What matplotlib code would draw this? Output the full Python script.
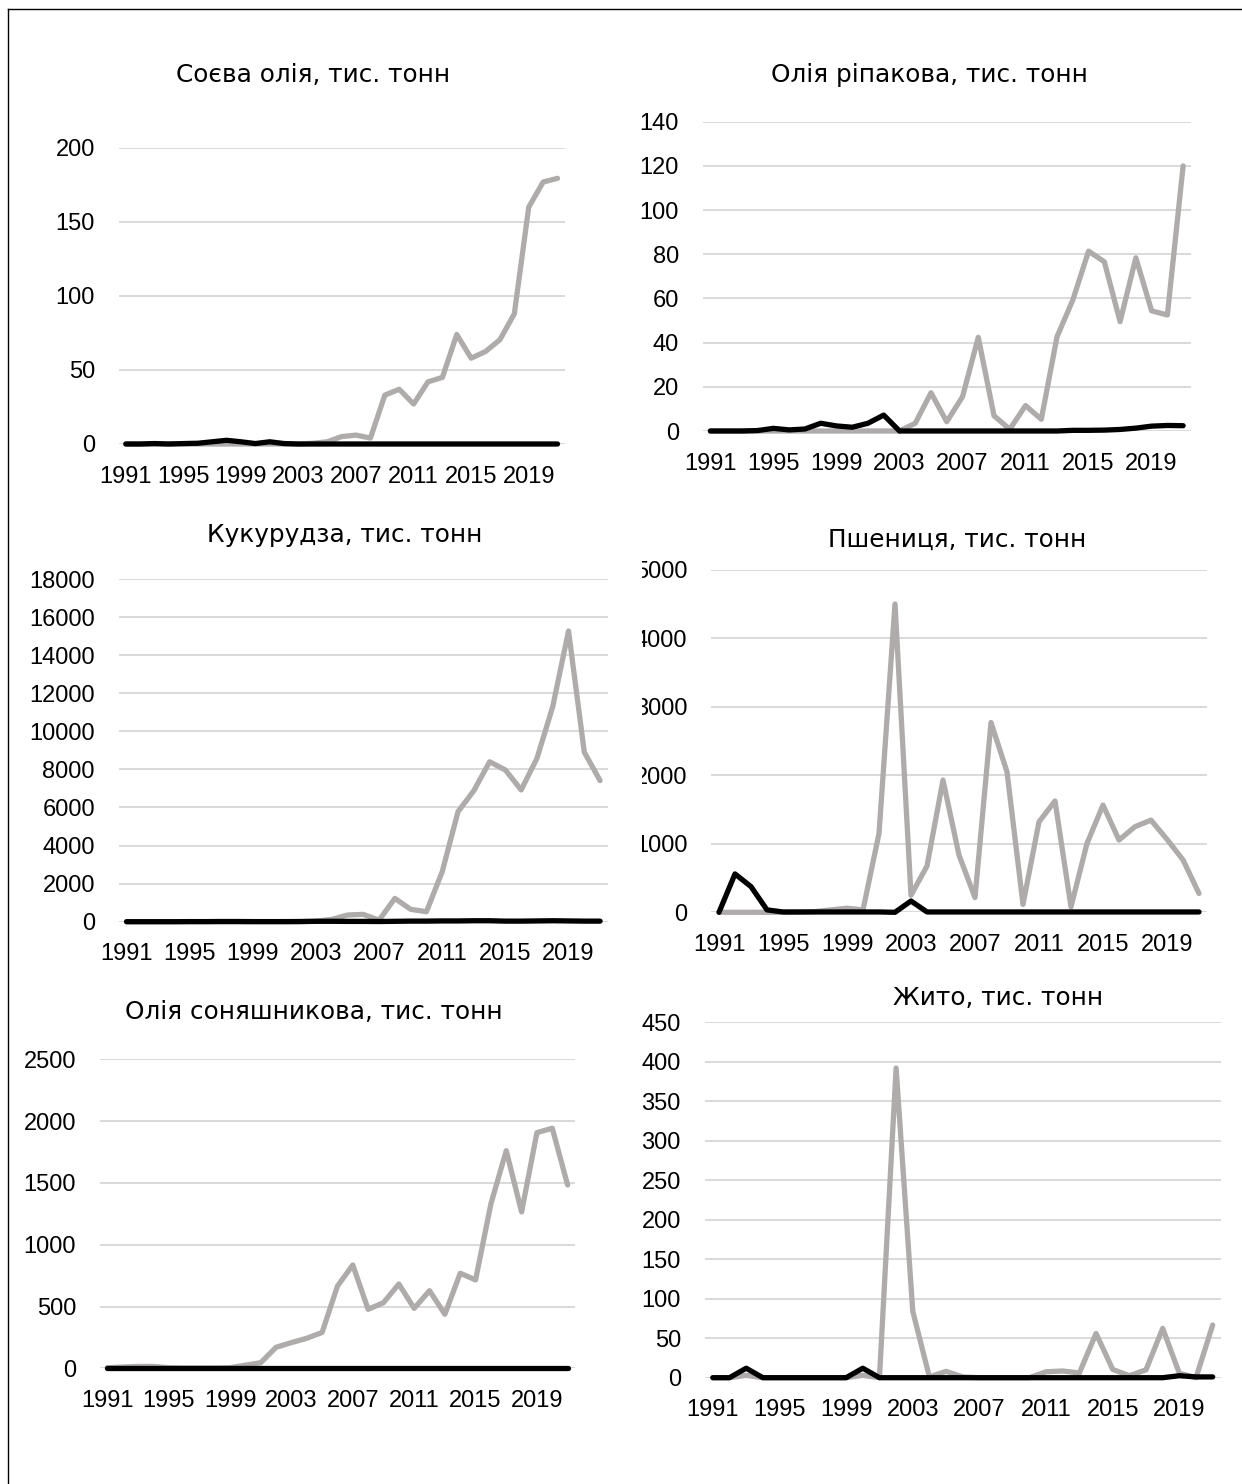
import matplotlib
matplotlib.use('Agg')
import matplotlib.pyplot as plt
from matplotlib.lines import Line2D
from matplotlib.transforms import Bbox, TransformedBbox

plt.rcParams['font.family'] = ['Liberation Sans', 'DejaVu Sans']

years = list(range(1991, 2022))
year_ticks = [1991, 1995, 1999, 2003, 2007, 2011, 2015, 2019]

titles = ["Соєва олія, тис. тонн", "Олія ріпакова, тис. тонн",
          "Кукурудза, тис. тонн", "Пшениця, тис. тонн",
          "Олія соняшникова, тис. тонн", "Жито, тис. тонн"]

soy_gray = [0, 0, 0, 0, 0, 0, 0, 0, 0, 0, 0, 0, 0,
            0.5, 1.5, 5, 6, 4, 33, 37, 27, 42, 45, 74, 58, 62.5, 70.5, 88, 160, 177, 179.5]
soy_black = [0, 0, 0.3, 0, 0.3, 0.5, 1.5, 2.5, 1.5, 0.3, 1.5, 0.3,
             0, 0, 0, 0, 0, 0, 0, 0, 0, 0, 0, 0, 0, 0, 0, 0, 0, 0, 0]

rape_gray = [0, 0, 0, 0, 0, 0, 0, 0, 0, 0, 0, 0, 0,
             3.5, 17.3, 4.2, 15.5, 42.4, 6.9, 0.8, 11.5, 5.3, 42.7, 59.3, 81.4, 76.6,
             49.5, 78.4, 54.4, 52.5, 120]
rape_black = [0, 0, 0, 0.2, 1.2, 0.5, 0.9, 3.5, 2.3, 1.7, 3.5, 7.2, 0,
              0, 0, 0, 0, 0, 0, 0, 0, 0, 0,
              0.3, 0.3, 0.4, 0.7, 1.3, 2.2, 2.5, 2.4]

corn_gray = [0, 0, 0, 0, 0, 0, 0, 0, 0, 0, 0, 0,
             30, 120, 350, 385, 80, 1225, 650, 525, 2630, 5780, 6880, 8400, 7970,
             6920, 8580, 11300, 15270, 8900, 7410]
corn_black = [0, 0, 0, 0, 5, 5, 10, 10, 5, 5, 5, 10, 20, 20, 15, 15, 10, 20, 30, 30,
              40, 40, 50, 50, 30, 30, 40, 50, 40, 30, 30]

wheat_gray = [0, 0, 0, 0, 0, 0, 10, 35, 60, 35, 1150, 4500, 250, 675, 1930, 835, 215,
              2770, 2050, 115, 1320, 1625, 80, 1005, 1565, 1055, 1250, 1345, 1065, 765, 275]
wheat_black = [0, 560, 375, 35, 5, 5, 5, 5, 5, 5, 5, 0, 165,
               5, 5, 5, 5, 5, 5, 5, 5, 5, 5, 5, 5, 5, 5, 5, 5, 5, 5]

sun_gray = [5, 10, 15, 15, 5, 3, 3, 3, 5, 25, 45, 170, 208, 243, 290, 665, 836, 477, 531,
            682, 485, 628, 437, 769, 715, 1330, 1761, 1265, 1907, 1942, 1483]
sun_black = [0, 0, 0, 0, 0, 0, 0, 0, 0, 0, 0, 0, 0, 0, 0, 0, 0, 0, 0, 0,
             0, 0, 0, 0, 0, 0, 0, 0, 0, 0, 0]

rye_gray = [0, 0, 3, 0, 0, 0, 0, 0, 0, 3, 0, 392, 84, 1, 8, 1, 0, 0, 0, 0,
            7.5, 8.5, 6, 56, 10.5, 2.5, 10, 62.5, 5.5, 0, 66.7]
rye_black = [0, 0, 12, 0, 0, 0, 0, 0, 0, 12, 0, 0, 0, 0, 0, 0, 0, 0, 0, 0,
             0, 0, 0, 0, 0, 0, 0, 0, 2.5, 1, 1]

y_ticks = [list(range(0, 201, 50)), list(range(0, 141, 20)),
           list(range(0, 18001, 2000)), list(range(0, 5001, 1000)),
           list(range(0, 2501, 500)), list(range(0, 451, 50))]

series = [(soy_gray, soy_black), (rape_gray, rape_black), (corn_gray, corn_black),
          (wheat_gray, wheat_black), (sun_gray, sun_black), (rye_gray, rye_black)]

W, H = 1242, 1484
# plot areas in pixels: x0, x1, y_top, y_bottom
boxes = [(118.6, 564.7, 148.0, 444.0),
         (702.5, 1191.0, 121.7, 431.0),
         (118.6, 608.0, 579.0, 921.7),
         (711.0, 1207.0, 569.7, 912.3),
         (99.6, 575.3, 1059.3, 1368.3),
         (704.5, 1221.0, 1022.3, 1377.7)]
# title centre x, baseline y in pixels
title_pos = [(313.5, 82), (929.5, 82), (345, 542), (957, 547), (314, 1019), (998, 1005)]

GRAY = '#AFABAB'
GRID = '#D9D9D9'

fig = plt.figure(figsize=(W / 100, H / 100), dpi=100)
fig.patch.set_facecolor('white')

for i in range(6):
    x0, x1, yt, yb = boxes[i]
    ax = fig.add_axes([x0 / W, 1 - yb / H, (x1 - x0) / W, (yb - yt) / H])
    g, b = series[i]
    ax.plot(years, g, color=GRAY, lw=3.8, solid_capstyle='round',
            solid_joinstyle='round', clip_on=False, zorder=3)
    ax.plot(years, b, color='black', lw=3.8, solid_capstyle='round',
            solid_joinstyle='round', clip_on=False, zorder=4)
    ax.set_xlim(1990.5, 2021.5)
    ax.set_ylim(0, y_ticks[i][-1])
    ax.set_yticks(y_ticks[i])
    ax.set_yticklabels([str(v) for v in y_ticks[i]])
    ax.set_xticks(year_ticks)
    ax.set_xticklabels([str(v) for v in year_ticks])
    ax.tick_params(axis='both', length=0, labelsize=17, colors='black')
    ax.tick_params(axis='y', pad=17)
    ax.tick_params(axis='x', pad=15.5)
    for s in ax.spines.values():
        s.set_visible(False)
    ax.yaxis.grid(True, color=GRID, lw=1.4, zorder=0)
    ax.set_axisbelow(True)
    ax.set_facecolor('none')
    tx, ty = title_pos[i]
    fig.text(tx / W, 1 - ty / H, titles[i], ha='center', va='baseline',
             fontsize=17.8, color='black', family=['DejaVu Sans'])
    if i == 3:
        clip = TransformedBbox(Bbox([[641.5 / W, 0], [1, 1]]), fig.transFigure)
        for t in ax.yaxis.get_major_ticks():
            t.label1.set_clip_on(True)
            t.label1.set_clip_box(clip)

# outer frame (left and top edges)
fig.add_artist(Line2D([7.5 / W, 7.5 / W], [0, 1 - 9 / H], transform=fig.transFigure,
                      color='black', lw=1.0))
fig.add_artist(Line2D([7.5 / W, 1], [1 - 9 / H, 1 - 9 / H], transform=fig.transFigure,
                      color='black', lw=1.0))

fig.savefig('out.png', dpi=100, facecolor='white')
